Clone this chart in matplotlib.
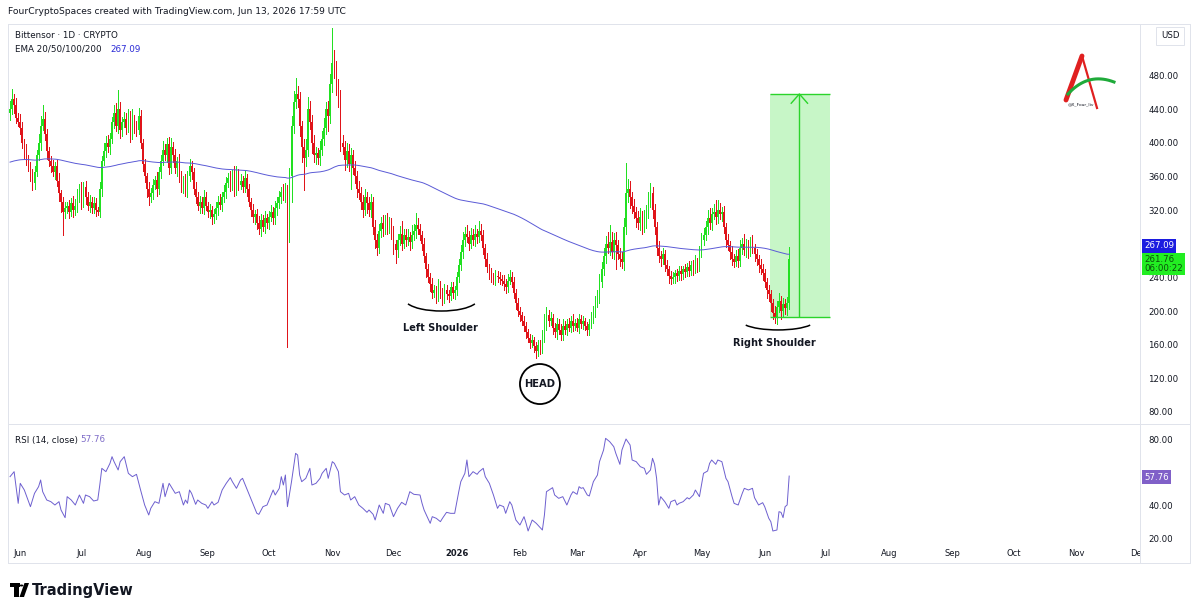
import numpy as np
import pandas as pd
import matplotlib
matplotlib.use('Agg')
from matplotlib import pyplot as plt
from matplotlib.patches import Arc, Ellipse, Rectangle, Polygon, Circle
from matplotlib.lines import Line2D
import matplotlib.dates as mdates

W, H = 1200, 615

def fx(x):
    return np.asarray(x) / W

def fy(y):
    return 1 - np.asarray(y) / H

###### Data ######

startDate = '2025-05-27'
firstOpen = 435

# daily closes, TAO/USD
closes = [
    440, 452, 445, 430, 425, 418, 400, 390, 380, 372,
    360, 352, 365, 385, 400, 420, 428, 410, 390, 378,
    372, 365, 372, 355, 340, 330, 318, 322, 325, 318,
    328, 320, 325, 335, 345, 330, 348, 335, 325, 330,
    322, 328, 320, 318, 345, 378, 390, 400, 395, 405,
    425, 435, 420, 440, 415, 425, 428, 418, 432, 410,
    425, 420, 415, 432, 400, 375, 360, 345, 335, 340,
    350, 356, 345, 365, 378, 392, 385, 398, 370, 395,
    385, 370, 378, 360, 348, 355, 342, 360, 372, 365,
    345, 335, 325, 330, 322, 335, 325, 318, 320, 312,
    315, 322, 330, 326, 335, 342, 352, 358, 350, 360,
    345, 362, 350, 355, 348, 358, 345, 330, 320, 312,
    315, 305, 298, 308, 300, 310, 305, 312, 318, 310,
    322, 328, 335, 342, 338, 345, 292, 360, 420, 448,
    458, 452, 420, 395, 382, 392, 440, 425, 400, 385,
    388, 382, 392, 405, 418, 440, 432, 470, 495, 485,
    466, 455, 400, 395, 380, 390, 375, 385, 370, 360,
    345, 340, 330, 320, 335, 328, 320, 330, 300, 285,
    275, 295, 305, 298, 308, 300, 305, 295, 280, 272,
    285, 292, 280, 290, 285, 288, 282, 290, 295, 302,
    298, 290, 280, 265, 250, 240, 232, 222, 225, 218,
    230, 222, 215, 225, 220, 218, 228, 222, 225, 240,
    255, 270, 285, 292, 288, 280, 290, 285, 292, 288,
    295, 290, 275, 262, 252, 245, 240, 238, 242, 240,
    238, 236, 232, 228, 236, 240, 235, 222, 210, 200,
    195, 188, 182, 175, 168, 162, 165, 158, 152, 160,
    155, 170, 185, 195, 188, 192, 180, 175, 185, 178,
    172, 182, 178, 185, 180, 188, 182, 186, 180, 190,
    185, 188, 182, 178, 185, 192, 200, 210, 218, 235,
    250, 265, 280, 275, 282, 270, 285, 278, 268, 262,
    258, 300, 340, 345, 335, 325, 318, 310, 305, 312,
    300, 308, 318, 332, 340, 320, 300, 275, 265, 262,
    268, 255, 250, 242, 238, 240, 245, 242, 248, 244,
    250, 246, 252, 248, 255, 250, 258, 252, 270, 285,
    290, 300, 310, 305, 315, 318, 312, 320, 315, 318,
    300, 285, 278, 270, 262, 258, 265, 260, 275, 280,
    272, 278, 270, 282, 275, 268, 262, 255, 250, 245,
    235, 225, 220, 210, 198, 192, 205, 212, 200, 208,
    203, 210, 261.76,
]

# wick length above the body / below the body
upperWick = [
    10, 12, 6, 8, 5, 9, 7, 4, 8, 6, 5, 9, 7, 6, 10, 12, 17, 8, 6, 5,
    6, 8, 5, 7, 9, 4, 6, 8, 5, 7, 6, 9, 8, 10, 6, 8, 5, 7, 6, 8,
    5, 7, 6, 4, 8, 6, 10, 8, 9, 7, 6, 10, 12, 23, 8, 6, 9, 7, 8, 6,
    15, 8, 6, 9, 7, 5, 6, 4, 8, 6, 7, 5, 9, 6, 8, 10, 7, 8, 9, 11,
    6, 8, 5, 9, 7, 6, 8, 7, 9, 6, 5, 8, 6, 7, 5, 9, 6, 4, 7, 5,
    6, 8, 7, 9, 6, 8, 7, 6, 9, 8, 12, 10, 7, 8, 6, 9, 5, 6, 4, 7,
    5, 6, 8, 7, 6, 9, 5, 7, 8, 6, 9, 7, 8, 6, 9, 7, 5, 10, 12, 14,
    19, 10, 8, 6, 9, 12, 14, 10, 8, 9, 7, 6, 10, 9, 12, 8, 10, 12, 41, 15,
    12, 10, 8, 9, 7, 10, 8, 9, 7, 8, 6, 9, 7, 8, 10, 6, 7, 9, 5, 8,
    6, 8, 7, 9, 6, 8, 7, 5, 6, 4, 7, 9, 15, 8, 7, 10, 6, 12, 9, 14,
    8, 6, 5, 7, 4, 6, 5, 7, 6, 5, 8, 6, 5, 7, 6, 5, 7, 6, 5, 6,
    7, 8, 9, 8, 10, 7, 9, 8, 10, 6, 12, 8, 6, 5, 7, 4, 6, 5, 7, 5,
    6, 5, 7, 6, 8, 9, 6, 5, 4, 6, 5, 4, 6, 5, 4, 5, 6, 4, 5, 6,
    5, 8, 12, 10, 6, 7, 5, 6, 7, 5, 6, 8, 6, 5, 7, 6, 8, 5, 6, 7,
    5, 6, 4, 5, 6, 7, 6, 8, 7, 9, 8, 10, 9, 14, 20, 12, 8, 9, 6, 7,
    8, 10, 36, 12, 9, 7, 8, 6, 9, 10, 7, 12, 8, 10, 12, 8, 7, 6, 8, 6,
    7, 5, 6, 4, 5, 6, 4, 5, 6, 5, 4, 6, 5, 7, 5, 6, 8, 5, 7, 8,
    9, 7, 10, 12, 8, 9, 14, 12, 8, 6, 7, 5, 6, 5, 7, 6, 8, 9, 10, 7,
    12, 8, 7, 6, 8, 5, 6, 5, 7, 6, 5, 4, 6, 5, 4, 8, 7, 9, 6, 8,
    6, 7, 14,
]
lowerWick = [
    8, 6, 10, 7, 5, 8, 6, 9, 7, 5, 6, 8, 7, 5, 6, 8, 5, 7, 9, 6,
    7, 5, 8, 6, 9, 12, 28, 8, 6, 7, 5, 8, 6, 7, 5, 9, 6, 8, 5, 7,
    6, 5, 7, 4, 6, 8, 5, 7, 6, 8, 5, 7, 6, 8, 9, 7, 6, 8, 5, 9,
    6, 8, 7, 5, 6, 8, 7, 10, 9, 6, 7, 5, 8, 6, 7, 5, 6, 8, 7, 6,
    8, 6, 9, 7, 6, 8, 5, 7, 6, 8, 6, 7, 5, 8, 6, 7, 5, 6, 8, 8,
    7, 6, 8, 5, 7, 6, 8, 5, 7, 6, 8, 7, 6, 5, 7, 6, 8, 5, 7, 6,
    8, 7, 6, 9, 5, 7, 6, 8, 5, 7, 6, 8, 5, 7, 6, 8, 135, 10, 30, 8,
    7, 9, 12, 18, 38, 10, 8, 9, 12, 8, 10, 7, 9, 6, 8, 7, 18, 9, 10, 8,
    9, 12, 10, 8, 12, 9, 8, 30, 7, 8, 10, 7, 9, 8, 6, 12, 7, 8, 9, 10,
    8, 6, 7, 9, 6, 8, 7, 9, 12, 15, 8, 6, 7, 5, 8, 6, 9, 7, 6, 8,
    7, 6, 8, 7, 9, 6, 8, 7, 5, 9, 6, 7, 8, 5, 6, 7, 5, 6, 8, 6,
    5, 6, 7, 8, 6, 7, 5, 6, 8, 7, 6, 5, 7, 8, 6, 7, 5, 6, 7, 5,
    6, 5, 7, 6, 5, 4, 6, 7, 8, 6, 7, 5, 6, 7, 5, 6, 5, 7, 8, 6,
    6, 5, 7, 8, 6, 5, 7, 6, 8, 5, 6, 7, 5, 6, 4, 5, 6, 5, 4, 6,
    5, 6, 5, 7, 6, 5, 6, 7, 5, 8, 6, 7, 8, 6, 9, 7, 8, 28, 6, 8,
    7, 9, 8, 10, 12, 9, 8, 10, 7, 9, 8, 6, 9, 7, 8, 10, 9, 8, 7, 9,
    6, 8, 7, 9, 6, 5, 7, 6, 5, 7, 6, 5, 4, 6, 5, 7, 5, 6, 5, 6,
    7, 6, 8, 7, 9, 6, 8, 7, 6, 8, 7, 9, 6, 8, 7, 6, 5, 8, 6, 7,
    6, 8, 7, 5, 6, 8, 7, 9, 6, 8, 7, 9, 8, 10, 7, 6, 8, 6, 9, 7,
    6, 8, 8,
]

emaSeed = 377.0          # EMA 200 level at the first visible bar

# RSI(14): bar index -> value
rsiDays = [
    0, 2, 4, 5, 7, 10, 12, 14, 15, 16,
    18, 20, 22, 24, 25, 27, 28, 30, 32, 34,
    36, 37, 39, 41, 43, 44, 45, 47, 49, 50,
    51, 53, 54, 56, 58, 60, 62, 64, 66, 68,
    69, 71, 73, 75, 76, 78, 79, 81, 83, 85,
    86, 87, 88, 89, 91, 92, 94, 96, 97, 99,
    100, 102, 104, 106, 108, 109, 111, 113, 114, 116,
    118, 120, 121, 122, 124, 126, 127, 129, 130, 132,
    133, 134, 135, 136, 138, 140, 141, 142, 143, 145,
    147, 148, 150, 152, 153, 155, 156, 158, 159, 161,
    162, 164, 166, 167, 169, 171, 173, 175, 176, 178,
    179, 181, 183, 184, 186, 188, 190, 192, 194, 196,
    198, 201, 202, 203, 206, 207, 209, 211, 212, 214,
    216, 218, 220, 221, 223, 224, 225, 227, 229, 230,
    232, 233, 235, 237, 239, 240, 242, 243, 245, 246,
    248, 250, 252, 253, 254, 256, 258, 261, 262, 263,
    266, 267, 269, 271, 273, 275, 276, 278, 279, 280,
    281, 283, 284, 286, 288, 289, 291, 292, 294, 296,
    297, 299, 300, 302, 304, 305, 307, 309, 311, 312,
    314, 315, 316, 317, 318, 319, 321, 323, 324, 326,
    327, 328, 330, 332, 333, 335, 336, 338, 340, 342,
    343, 344, 346, 347, 349, 351, 352, 354, 355, 357,
    359, 360, 362, 364, 365, 367, 369, 370, 372, 373,
    374, 376, 377, 378, 379, 380, 381, 382,
]
rsiValues = [
    57.4, 60.4, 41.4, 53.4, 49.4, 39.4, 47.4, 51.4, 55.4, 48.4,
    43.4, 42.4, 40.4, 42.4, 37.4, 32.8, 45.4, 43.4, 40.4, 46.4,
    41.4, 46.4, 45.4, 42.8, 43.4, 52.4, 62.4, 60.4, 65.4, 69.4,
    66.4, 61.4, 66.4, 69.4, 59.4, 57.4, 58.8, 49.4, 40.4, 34.4,
    38.4, 42.4, 41.4, 53.4, 45.4, 53.4, 51.4, 47.4, 48.4, 40.4,
    43.4, 41.4, 49.4, 47.4, 40.8, 43.4, 41.4, 40.4, 38.4, 42.4,
    40.4, 42.0, 49.4, 53.4, 56.8, 54.4, 50.4, 55.4, 56.4, 50.4,
    44.4, 38.4, 35.4, 34.8, 39.4, 40.4, 43.4, 49.4, 46.4, 50.4,
    57.4, 52.4, 58.4, 39.4, 54.4, 71.4, 70.4, 58.4, 54.4, 56.4,
    62.4, 52.4, 53.4, 56.4, 59.4, 62.4, 56.4, 66.4, 65.4, 60.4,
    48.4, 46.4, 47.4, 43.4, 45.4, 40.4, 38.4, 36.0, 37.4, 34.8,
    31.4, 40.4, 35.4, 41.4, 40.4, 33.4, 38.4, 42.0, 40.4, 48.4,
    46.8, 46.4, 41.4, 37.4, 29.4, 33.4, 32.4, 30.4, 32.4, 36.0,
    35.4, 35.4, 48.4, 54.4, 59.4, 67.4, 57.4, 60.4, 58.8, 60.4,
    62.4, 57.4, 53.4, 46.4, 38.4, 40.4, 39.4, 35.4, 42.4, 40.4,
    31.4, 28.4, 33.4, 29.4, 24.8, 31.4, 29.4, 25.4, 34.4, 48.4,
    50.8, 46.4, 44.4, 45.4, 40.4, 46.4, 48.4, 46.8, 51.4, 50.4,
    50.8, 46.4, 45.8, 54.4, 58.4, 66.4, 73.4, 80.4, 78.4, 75.4,
    71.4, 64.8, 73.4, 80.0, 76.4, 67.4, 66.4, 63.4, 62.4, 58.8,
    61.4, 68.4, 64.8, 56.4, 40.4, 45.4, 42.4, 38.4, 42.4, 43.4,
    40.4, 41.4, 42.4, 44.8, 44.0, 46.4, 49.4, 45.4, 59.4, 60.8,
    65.4, 67.4, 64.8, 67.4, 66.4, 56.4, 54.4, 45.4, 41.4, 40.4,
    47.4, 50.4, 49.4, 50.4, 44.8, 40.4, 41.8, 39.4, 32.4, 30.4,
    24.8, 25.4, 36.4, 36.0, 32.8, 39.4, 40.4, 57.76,
]

monthLabels = ['Jun', 'Jul', 'Aug', 'Sep', 'Oct', 'Nov', 'Dec', '2026', 'Feb', 'Mar',
               'Apr', 'May', 'Jun', 'Jul', 'Aug', 'Sep', 'Oct', 'Nov', 'Dec']
priceTicks = [80, 120, 160, 200, 240, 320, 360, 400, 440, 480]
rsiTicks = [20, 40, 80]

targetTop, targetBottom = 458, 193

###### Build series ######

dates = pd.date_range(startDate, periods=len(closes), freq='D')
x = mdates.date2num(dates.to_pydatetime())
d0 = x[0]
c = np.array(closes, dtype=float)
o = np.concatenate([[firstOpen], c[:-1]])
hi = np.maximum(o, c) + np.array(upperWick)
lo = np.minimum(o, c) - np.array(lowerWick)

ema = [emaSeed]
alpha = 2 / 201
for v in c[1:]:
    ema.append(ema[-1] + alpha * (v - ema[-1]))

GREEN = '#22e022'
RED = '#e0141a'
TXT = '#131722'

fig = plt.figure(figsize=(12, 6.15), dpi=100)
fig.patch.set_facecolor('white')

# price pane
ax = fig.add_axes([fx(8), fy(425), 1132 / W, 400 / H])
ax.set_xlim(d0 - 1, d0 + 554)
ax.set_ylim(64.5, 540)
for s in ax.spines.values():
    s.set_visible(False)

cols = np.where(c >= o, GREEN, RED)
ax.vlines(x, lo, hi, colors=cols, lw=0.6, zorder=2, antialiased=False)
ax.bar(x, np.maximum(np.abs(c - o), 1.0), bottom=np.minimum(o, c), width=0.8,
       color=cols, linewidth=0, zorder=3, antialiased=False)
ax.plot(x, ema, color='#5a5ad6', lw=0.7, zorder=4)

ax.yaxis.tick_right()
ax.set_yticks(priceTicks)
ax.set_yticklabels(['%.2f' % v for v in priceTicks])
ax.tick_params(axis='y', length=0, pad=6, labelsize=6.2, labelcolor=TXT)
ax.set_xticks([])

# projection box
i0 = d0 + 372.5
ax.add_patch(Rectangle((i0, targetBottom), 29.5, targetTop - targetBottom,
                       fc='#22dd22', alpha=0.25, ec='none', zorder=1))
ax.hlines([targetTop, targetBottom], i0, i0 + 29.5, colors='#2bd42b', lw=1.0, zorder=5)
ax.vlines(d0 + 387, targetBottom, targetTop, colors='#2bd42b', lw=1.0, zorder=5)
ax.plot([d0 + 383, d0 + 387, d0 + 391], [targetTop - 11, targetTop, targetTop - 11],
        color='#2bd42b', lw=1.0, zorder=5)

# pattern annotations
ax.add_patch(Arc((d0 + 211.5, 214.5), 36, 29, theta1=200, theta2=340, color='black', lw=1.1))
ax.text(d0 + 211, 180, 'Left Shoulder', ha='center', va='center', fontsize=7,
        fontweight='bold', color=TXT)
ax.add_patch(Ellipse((d0 + 259.8, 113.2), 19.6, 47.6, fc='none', ec='black', lw=1.3))
ax.text(d0 + 259.8, 113.2, 'HEAD', ha='center', va='center', fontsize=7.2,
        fontweight='bold', color=TXT)
ax.add_patch(Arc((d0 + 376.5, 189), 36.5, 23, theta1=200, theta2=340, color='black', lw=1.1))
ax.text(d0 + 374.5, 162, 'Right Shoulder', ha='center', va='center', fontsize=7,
        fontweight='bold', color=TXT)

# RSI pane
ax2 = fig.add_axes([fx(8), fy(545), 1132 / W, 120 / H])
ax2.set_xlim(d0 - 1, d0 + 554)
ax2.set_ylim(16.4, 88.4)
for s in ax2.spines.values():
    s.set_visible(False)
ax2.plot(d0 + np.array(rsiDays), rsiValues, color='#6d5fcf', lw=0.7)
ax2.yaxis.tick_right()
ax2.set_yticks(rsiTicks)
ax2.set_yticklabels(['%.2f' % v for v in rsiTicks])
ax2.tick_params(axis='y', length=0, pad=6, labelsize=6.2, labelcolor=TXT)
ax2.set_xticks([])

# time axis strip
ax3 = fig.add_axes([fx(8), fy(562), 1132 / W, 17 / H])
ax3.set_xlim(d0 - 1, d0 + 554)
ax3.set_ylim(0, 1)
ax3.axis('off')
monthPos = mdates.date2num(pd.date_range('2025-06-01', periods=len(monthLabels), freq='MS').to_pydatetime())
for mp, lab in zip(monthPos, monthLabels):
    ax3.text(mp, 0.5, lab, ha='center', va='center', fontsize=6, color=TXT,
             fontweight='bold' if lab == '2026' else 'normal', clip_on=True)

# frame lines
border = '#e0e3eb'
for seg in [([8, 1190], [24, 24]), ([8, 1190], [424, 424]), ([8, 1190], [563, 563]),
            ([8, 8], [24, 563]), ([1190, 1190], [24, 563]), ([1140, 1140], [24, 563])]:
    fig.add_artist(Line2D(fx(seg[0]), fy(seg[1]), color=border, lw=0.7))

# header and legends
fig.text(fx(8), fy(12), 'FourCryptoSpaces created with TradingView.com, Jun 13, 2026 17:59 UTC',
         fontsize=6.6, color=TXT, va='center')
fig.text(fx(15), fy(35), 'Bittensor · 1D · CRYPTO', fontsize=6.3, color=TXT, va='center')
fig.text(fx(15), fy(49), 'EMA 20/50/100/200', fontsize=6.3, color=TXT, va='center')
fig.text(fx(110), fy(49), '267.09', fontsize=6.3, color='#2a2ad6', va='center')
fig.text(fx(15), fy(440), 'RSI (14, close)', fontsize=6.3, color=TXT, va='center')
fig.text(fx(80), fy(440), '57.76', fontsize=6.3, color='#7e6cc8', va='center')

# price scale labels
fig.text(fx(1170), fy(36), 'USD', fontsize=6.2, color=TXT, ha='center', va='center',
         bbox=dict(boxstyle='square,pad=0.5', fc='white', ec='#e0e3eb', lw=0.7))
fig.text(fx(1144), fy(246), '267.09', fontsize=6.2, color='white', va='center',
         bbox=dict(boxstyle='square,pad=0.25', fc='#1c1ce0', ec='none'))
fig.text(fx(1144), fy(264), '261.76\n06:00:22', fontsize=6.2, color='#0b4d0b', va='center',
         linespacing=1.0, bbox=dict(boxstyle='square,pad=0.25', fc='#22ee22', ec='none'))
fig.text(fx(1144), fy(477), '57.76', fontsize=6.2, color='white', va='center',
         bbox=dict(boxstyle='square,pad=0.25', fc='#8060c8', ec='none'))

# watermark logo (top right)
fig.add_artist(Line2D(fx([1082, 1066]), fy([56, 100]), color='#e02020', lw=3.5,
                      solid_capstyle='round'))
fig.add_artist(Line2D(fx([1082, 1097]), fy([56, 108]), color='#e02020', lw=1.6))
sw = np.linspace(0, 1, 20)
swx = (1 - sw) ** 2 * 1068 + 2 * (1 - sw) * sw * 1088 + sw ** 2 * 1114
swy = (1 - sw) ** 2 * 94 + 2 * (1 - sw) * sw * 72 + sw ** 2 * 82
fig.add_artist(Line2D(fx(swx), fy(swy), color='#1faa3a', lw=2.2))
fig.text(fx(1081), fy(104), '@X_Four_liv', fontsize=3.2, color=TXT, ha='center', va='center')

# TradingView footer
fig.add_artist(Rectangle((fx(10), fy(587)), fx(9.5), 4 / H, transform=fig.transFigure,
                         fc='black', ec='none'))
fig.add_artist(Rectangle((fx(14), fy(597)), fx(4.5), 14 / H, transform=fig.transFigure,
                         fc='black', ec='none'))
fig.add_artist(Circle((fx(21.5), fy(585.5)), 1.9 / W, transform=fig.transFigure,
                      fc='black', ec='none'))
fig.add_artist(Polygon([(fx(24.5), fy(583)), (fx(29), fy(583)), (fx(24), fy(597)),
                        (fx(19.5), fy(597))], closed=True, transform=fig.transFigure,
                       fc='black', ec='none'))
fig.text(fx(32), fy(590), 'TradingView', fontsize=10.5, fontweight='bold', color=TXT,
         va='center')

fig.savefig('out.png', dpi=100)
